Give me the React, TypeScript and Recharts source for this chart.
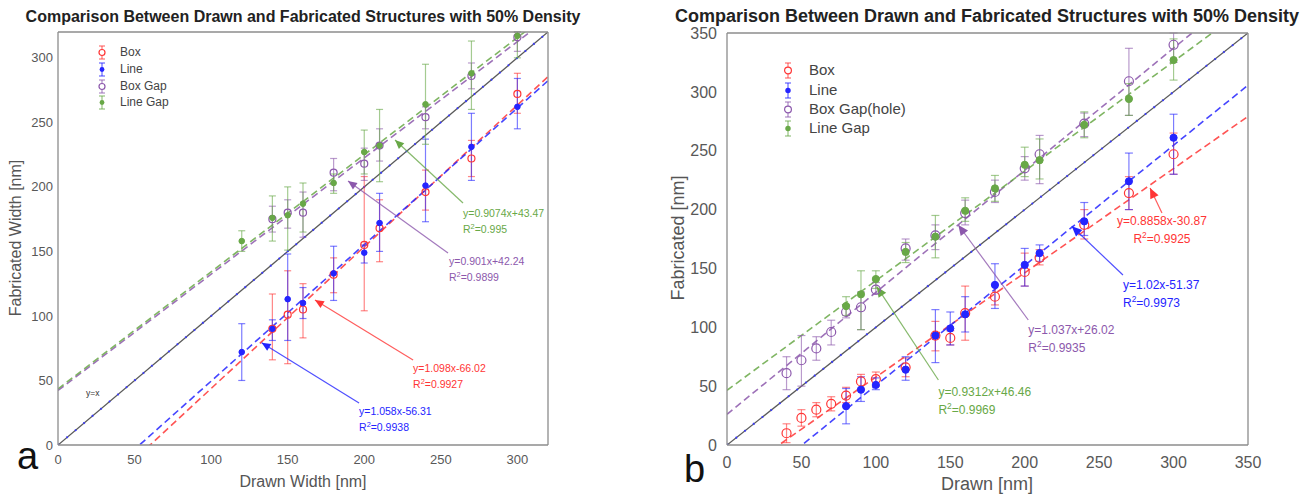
import React from 'react';
import { ScatterChart, Scatter, XAxis, YAxis, ErrorBar, ReferenceLine, ReferenceDot } from 'recharts';

const FONT = '"Liberation Sans", Arial, Helvetica, sans-serif';
const RED = '#ff3535';
const BLUE = '#2424ff';
const PURPLE = '#8c58ac';
const GREEN = '#68a847';
const COLORS = [RED, BLUE, PURPLE, GREEN];
const AXIS = '#8c8c8c';
const TICKTXT = '#585858';

// ---------------- Panel a ----------------
const A_TICKS = [0, 50, 100, 150, 200, 250, 300];
const A_MAX = 320;
const A_NAMES = ['Box', 'Line', 'Box Gap', 'Line Gap'];

const A_BOX_X = [140, 150, 160, 180, 200, 210, 240, 270, 300];
const A_BOX_Y = [90, 101, 105, 132, 155, 168, 196, 222, 272];
const A_BOX_LO = [66, 63, 83, 118, 104, 142, 182, 208, 257];
const A_BOX_HI = [117, 135, 125, 145, 208, 190, 213, 236, 288];

const A_LINE_X = [120, 140, 150, 160, 180, 200, 210, 240, 270, 300];
const A_LINE_Y = [72, 90, 113, 110, 133, 149, 172, 201, 231, 262];
const A_LINE_LO = [50, 81, 81, 98, 112, 141, 150, 173, 205, 245];
const A_LINE_HI = [94, 97, 148, 122, 154, 155, 195, 237, 257, 284];

const A_BGAP_X = [140, 150, 160, 180, 200, 210, 240, 270, 300];
const A_BGAP_Y = [175, 180, 180, 211, 218, 232, 254, 286, 316];
const A_BGAP_LO = [165, 168, 161, 197, 205, 220, 245, 276, 305];
const A_BGAP_HI = [185, 190, 196, 222, 230, 245, 262, 296, 320];

const A_LGAP_X = [120, 140, 150, 160, 180, 200, 210, 240, 270, 300];
const A_LGAP_Y = [158, 176, 178, 187, 203, 227, 232, 264, 288, 317];
const A_LGAP_LO = [150, 158, 151, 165, 195, 210, 204, 233, 260, 300];
const A_LGAP_HI = [166, 193, 200, 203, 210, 244, 260, 295, 313, 320];

const A_SLOPE = [1.098, 1.058, 0.901, 0.9074];
const A_INTERCEPT = [-66.02, -56.31, 42.24, 43.47];
const A_EQ = ['y=1.098x-66.02', 'y=1.058x-56.31', 'y=0.901x+42.24', 'y=0.9074x+43.47'];
const A_R2 = ['0.9927', '0.9938', '0.9899', '0.995'];

// ---------------- Panel b ----------------
const B_TICKS = [0, 50, 100, 150, 200, 250, 300, 350];
const B_MAX = 350;
const B_NAMES = ['Box', 'Line', 'Box Gap(hole)', 'Line Gap'];

const B_BOX_X = [40, 50, 60, 70, 80, 90, 100, 120, 140, 150, 160, 180, 200, 210, 240, 270, 300];
const B_BOX_Y = [10, 23, 30, 35, 42, 54, 56, 66, 93, 91, 112, 126, 147, 159, 187, 214, 247];
const B_BOX_LO = [2, 16, 24, 29, 36, 47, 50, 58, 80, 85, 89, 119, 135, 153, 175, 200, 230];
const B_BOX_HI = [18, 30, 36, 41, 49, 60, 62, 74, 105, 97, 135, 136, 163, 166, 200, 228, 265];

const B_LINE_X = [80, 90, 100, 120, 140, 150, 160, 180, 200, 210, 240, 270, 300];
const B_LINE_Y = [33, 47, 51, 64, 93, 99, 111, 136, 153, 163, 190, 224, 261];
const B_LINE_LO = [18, 37, 47, 55, 70, 85, 96, 116, 135, 156, 178, 200, 230];
const B_LINE_HI = [48, 58, 57, 75, 115, 113, 126, 154, 167, 170, 206, 248, 281];

const B_BGAP_X = [40, 50, 60, 70, 80, 90, 100, 120, 140, 160, 180, 200, 210, 240, 270, 300];
const B_BGAP_Y = [61, 72, 82, 96, 113, 117, 132, 167, 178, 197, 215, 235, 247, 273, 309, 340];
const B_BGAP_LO = [47, 50, 72, 85, 108, 98, 128, 157, 166, 187, 206, 225, 222, 262, 280, 325];
const B_BGAP_HI = [75, 93, 92, 106, 119, 130, 138, 175, 187, 208, 225, 245, 263, 282, 337, 350];

const B_LGAP_X = [80, 90, 100, 120, 140, 160, 180, 200, 210, 240, 270, 300];
const B_LGAP_Y = [118, 128, 141, 164, 177, 199, 218, 238, 242, 272, 294, 327];
const B_LGAP_LO = [110, 98, 133, 155, 159, 190, 207, 228, 226, 261, 280, 310];
const B_LGAP_HI = [126, 148, 148, 172, 195, 210, 229, 253, 260, 283, 307, 345];

const B_SLOPE = [0.8858, 1.02, 1.037, 0.9312];
const B_INTERCEPT = [-30.87, -51.37, 26.02, 46.46];
const B_EQ = ['y=0.8858x-30.87', 'y=1.02x-51.37', 'y=1.037x+26.02', 'y=0.9312x+46.46'];
const B_R2 = ['0.9925', '0.9973', '0.9935', '0.9969'];

// annotation anchors (tip of arrow, tail where text sits), in data units
const A_NOTES = [
  { tip: [167.8, 112.3], tail: [231.9, 65.9], dx: 0, dy: 12, anchor: 'start' },
  { tip: [133, 79.3], tail: [196.6, 32.5], dx: 0, dy: 12, anchor: 'start' },
  { tip: [189.4, 204.6], tail: [254.7, 148.8], dx: 1, dy: 12, anchor: 'start' },
  { tip: [220.1, 236.3], tail: [264.5, 187.5], dx: 0, dy: 14, anchor: 'start' },
];
const B_NOTES = [
  { tip: [284.2, 218.3], tail: [292.2, 197.1], dx: 0, dy: 12, anchor: 'middle' },
  { tip: [231.6, 185.8], tail: [266, 144.4], dx: 0, dy: 14, anchor: 'start' },
  { tip: [155.4, 186.9], tail: [202.4, 106.2], dx: 0, dy: 14, anchor: 'start' },
  { tip: [100.6, 134.5], tail: [142, 55.2], dx: 0, dy: 16, anchor: 'start' },
];

const build = (xs: number[], ys: number[], lo: number[], hi: number[]) =>
  xs.map((x, i) => ({ x, y: ys[i], err: [ys[i] - lo[i], hi[i] - ys[i]] }));

const A_SERIES = [
  { data: build(A_BOX_X, A_BOX_Y, A_BOX_LO, A_BOX_HI), open: true },
  { data: build(A_LINE_X, A_LINE_Y, A_LINE_LO, A_LINE_HI), open: false },
  { data: build(A_BGAP_X, A_BGAP_Y, A_BGAP_LO, A_BGAP_HI), open: true },
  { data: build(A_LGAP_X, A_LGAP_Y, A_LGAP_LO, A_LGAP_HI), open: false },
];
const B_SERIES = [
  { data: build(B_BOX_X, B_BOX_Y, B_BOX_LO, B_BOX_HI), open: true },
  { data: build(B_LINE_X, B_LINE_Y, B_LINE_LO, B_LINE_HI), open: false },
  { data: build(B_BGAP_X, B_BGAP_Y, B_BGAP_LO, B_BGAP_HI), open: true },
  { data: build(B_LGAP_X, B_LGAP_Y, B_LGAP_LO, B_LGAP_HI), open: false },
];

const marker = (color: string, open: boolean, r: number) => (p: any) =>
  open ? (
    <circle cx={p.cx} cy={p.cy} r={r} fill="none" stroke={color} strokeWidth={1.2} />
  ) : (
    <circle cx={p.cx} cy={p.cy} r={r * 0.8} fill={color} stroke={color} strokeWidth={1} />
  );

const arrowShape = (color: string, eq: string, r2: string, fs: number, gap: number, note: any) => (p: any) => {
  const { x1, y1, x2, y2 } = p;
  const ang = Math.atan2(y1 - y2, x1 - x2);
  const L = fs * 0.85;
  const W = fs * 0.38;
  const bx = x1 - L * Math.cos(ang);
  const by = y1 - L * Math.sin(ang);
  const pts = `${x1},${y1} ${bx - W * Math.sin(ang)},${by + W * Math.cos(ang)} ${bx + W * Math.sin(ang)},${by - W * Math.cos(ang)}`;
  const tx = x2 + note.dx;
  const ty = y2 + note.dy;
  return (
    <g>
      <line x1={x1} y1={y1} x2={x2} y2={y2} stroke={color} strokeWidth={1.2} strokeOpacity={0.8} />
      <polygon points={pts} fill={color} />
      <text x={tx} y={ty} fill={color} fontSize={fs} fontFamily={FONT} textAnchor={note.anchor}>
        {eq}
      </text>
      <text x={tx} y={ty + gap} fill={color} fontSize={fs} fontFamily={FONT} textAnchor={note.anchor}>
        R<tspan dy={-fs * 0.4} fontSize={fs * 0.7}>2</tspan>
        <tspan dy={fs * 0.4}>{'=' + r2}</tspan>
      </text>
    </g>
  );
};

function Panel(props: any) {
  const { left, width, margin, max, ticks, tickFs, tickMx, tickMy, tickLen, series, slopes, intercepts, eqs, r2s, notes, noteFs, noteGap, cap, r, yxLabel } = props;
  const axisLine = { stroke: AXIS, strokeWidth: 1.3 };
  const tickStyle = { fill: TICKTXT, fontSize: tickFs, fontFamily: FONT };
  return (
    <div style={{ position: 'absolute', left, top: 0 }}>
      <ScatterChart width={width} height={496} margin={margin}>
        <XAxis xAxisId={0} type="number" dataKey="x" domain={[0, max]} ticks={ticks} interval={0} allowDataOverflow tickLine={false} tickSize={0} tickMargin={tickMx} axisLine={axisLine} height={30} tick={tickStyle} />
        <YAxis yAxisId={0} type="number" dataKey="y" domain={[0, max]} ticks={ticks} interval={0} allowDataOverflow tickLine={false} tickSize={0} tickMargin={tickMy} axisLine={axisLine} width={50} tick={tickStyle} />
        <XAxis xAxisId="top" orientation="top" mirror type="number" domain={[0, max]} ticks={ticks} interval={0} allowDataOverflow tick={false} tickSize={tickLen} axisLine={axisLine} tickLine={{ stroke: AXIS }} />
        <XAxis xAxisId="bm" orientation="bottom" mirror type="number" domain={[0, max]} ticks={ticks} interval={0} allowDataOverflow tick={false} tickSize={tickLen} axisLine={false} tickLine={{ stroke: AXIS }} />
        <YAxis yAxisId="right" orientation="right" mirror type="number" domain={[0, max]} ticks={ticks} interval={0} allowDataOverflow tick={false} tickSize={tickLen} axisLine={axisLine} tickLine={{ stroke: AXIS }} />
        <YAxis yAxisId="lm" orientation="left" mirror type="number" domain={[0, max]} ticks={ticks} interval={0} allowDataOverflow tick={false} tickSize={tickLen} axisLine={false} tickLine={{ stroke: AXIS }} />

        <ReferenceLine segment={[{ x: 0, y: 0 }, { x: max, y: max }]} ifOverflow="hidden" stroke="#5a5a5a" strokeWidth={1.3} />
        <ReferenceLine segment={[{ x: 0, y: 0 }, { x: max, y: max }]} ifOverflow="hidden" stroke="#3a3aff" strokeWidth={2} strokeDasharray="1.6 9.5" />
        {slopes.map((s: number, i: number) => (
          <ReferenceLine
            key={'fit' + i}
            segment={[{ x: 0, y: intercepts[i] }, { x: max, y: s * max + intercepts[i] }]}
            ifOverflow="hidden"
            stroke={COLORS[i]}
            strokeOpacity={0.85}
            strokeWidth={1.6}
            strokeDasharray="7 4"
          />
        ))}

        {series.map((s: any, i: number) => (
          <Scatter key={'s' + i} data={s.data} isAnimationActive={false} shape={marker(COLORS[i], s.open, r)}>
            <ErrorBar dataKey="err" direction="y" width={cap} stroke={COLORS[i]} strokeWidth={1.2} strokeOpacity={0.6} />
          </Scatter>
        ))}

        {notes.map((n: any, i: number) => (
          <ReferenceLine
            key={'note' + i}
            segment={[{ x: n.tip[0], y: n.tip[1] }, { x: n.tail[0], y: n.tail[1] }]}
            shape={arrowShape(COLORS[i], eqs[i], r2s[i], noteFs, noteGap, n)}
          />
        ))}
        {yxLabel ? (
          <ReferenceDot
            x={yxLabel[0]}
            y={yxLabel[1]}
            r={0}
            shape={(p: any) => (
              <text x={p.cx} y={p.cy} fontSize={8.5} fill="#333" fontFamily={FONT}>
                y=x
              </text>
            )}
          />
        ) : null}
      </ScatterChart>
    </div>
  );
}

function LegendIcon({ color, open, h }: { color: string; open: boolean; h: number }) {
  const w = 12;
  const c = w / 2;
  const r = h * 0.2;
  return (
    <svg width={w} height={h} style={{ position: 'absolute', left: -c, top: -h / 2 }}>
      <line x1={c} y1={1} x2={c} y2={h - 1} stroke={color} strokeWidth={1.2} strokeOpacity={0.7} />
      <line x1={c - 3} y1={1} x2={c + 3} y2={1} stroke={color} strokeWidth={1.2} strokeOpacity={0.7} />
      <line x1={c - 3} y1={h - 1} x2={c + 3} y2={h - 1} stroke={color} strokeWidth={1.2} strokeOpacity={0.7} />
      {open ? (
        <circle cx={c} cy={h / 2} r={r} fill="#fff" stroke={color} strokeWidth={1.2} />
      ) : (
        <circle cx={c} cy={h / 2} r={r * 0.8} fill={color} />
      )}
    </svg>
  );
}

function Legend({ x, textX, rows, names, fs, iconH }: any) {
  return (
    <>
      {names.map((n: string, i: number) => (
        <React.Fragment key={n}>
          <div style={{ position: 'absolute', left: x, top: rows[i] }}>
            <LegendIcon color={COLORS[i]} open={i % 2 === 0} h={iconH} />
          </div>
          <div style={{ position: 'absolute', left: textX, top: rows[i] - fs * 0.6, fontSize: fs, lineHeight: `${fs * 1.2}px`, color: '#444', whiteSpace: 'nowrap' }}>{n}</div>
        </React.Fragment>
      ))}
    </>
  );
}

const TITLE = 'Comparison Between Drawn and Fabricated Structures with 50% Density';

export default function App() {
  return (
    <div style={{ position: 'absolute', left: 0, top: 0, width: 1309, height: 496, background: '#fff', fontFamily: FONT, overflow: 'hidden' }}>
      <Panel
        left={0}
        width={655}
        margin={{ top: 32, right: 107, bottom: 21, left: 8 }}
        max={A_MAX}
        ticks={A_TICKS}
        tickFs={13}
        tickMx={10}
        tickMy={5}
        tickLen={4}
        series={A_SERIES}
        slopes={A_SLOPE}
        intercepts={A_INTERCEPT}
        eqs={A_EQ}
        r2s={A_R2}
        notes={A_NOTES}
        noteFs={10.5}
        noteGap={16}
        cap={3.5}
        r={3.5}
        yxLabel={[18.3, 38]}
      />
      <Panel
        left={655}
        width={654}
        margin={{ top: 33, right: 61, bottom: 21, left: 22 }}
        max={B_MAX}
        ticks={B_TICKS}
        tickFs={16}
        tickMx={12}
        tickMy={10}
        tickLen={5}
        series={B_SERIES}
        slopes={B_SLOPE}
        intercepts={B_INTERCEPT}
        eqs={B_EQ}
        r2s={B_R2}
        notes={B_NOTES}
        noteFs={12}
        noteGap={18}
        cap={4}
        r={4.5}
        yxLabel={null}
      />

      {/* titles */}
      <div style={{ position: 'absolute', left: 0, width: 606, top: 9, textAlign: 'center', fontSize: 16, lineHeight: 1, fontWeight: 'bold', color: '#222', whiteSpace: 'nowrap' }}>{TITLE}</div>
      <div style={{ position: 'absolute', left: 657, width: 660, top: 7, textAlign: 'center', fontSize: 18, lineHeight: 1, fontWeight: 'bold', color: '#222', whiteSpace: 'nowrap' }}>{TITLE}</div>

      {/* axis labels */}
      <div style={{ position: 'absolute', left: 0, width: 606, top: 474, textAlign: 'center', fontSize: 16, lineHeight: 1, color: '#555' }}>Drawn Width [nm]</div>
      <div style={{ position: 'absolute', left: 687, width: 600, top: 475, textAlign: 'center', fontSize: 18, lineHeight: 1, color: '#555' }}>Drawn [nm]</div>
      <div style={{ position: 'absolute', left: 16, top: 238, transform: 'translate(-50%,-50%) rotate(-90deg)', whiteSpace: 'nowrap', fontSize: 16, lineHeight: 1, color: '#555' }}>Fabricated Width [nm]</div>
      <div style={{ position: 'absolute', left: 678, top: 238, transform: 'translate(-50%,-50%) rotate(-90deg)', whiteSpace: 'nowrap', fontSize: 18, lineHeight: 1, color: '#555' }}>Fabricated [nm]</div>

      {/* panel letters */}
      <div style={{ position: 'absolute', left: 17, top: 437, fontSize: 38, lineHeight: 1, color: '#111' }}>a</div>
      <div style={{ position: 'absolute', left: 684, top: 450, fontSize: 38, lineHeight: 1, color: '#111' }}>b</div>

      {/* legends */}
      <Legend x={102} textX={120} rows={[52, 69, 86, 102]} names={A_NAMES} fs={12} iconH={15} />
      <Legend x={788} textX={809} rows={[70, 90, 109, 128]} names={B_NAMES} fs={15} iconH={17} />
    </div>
  );
}
